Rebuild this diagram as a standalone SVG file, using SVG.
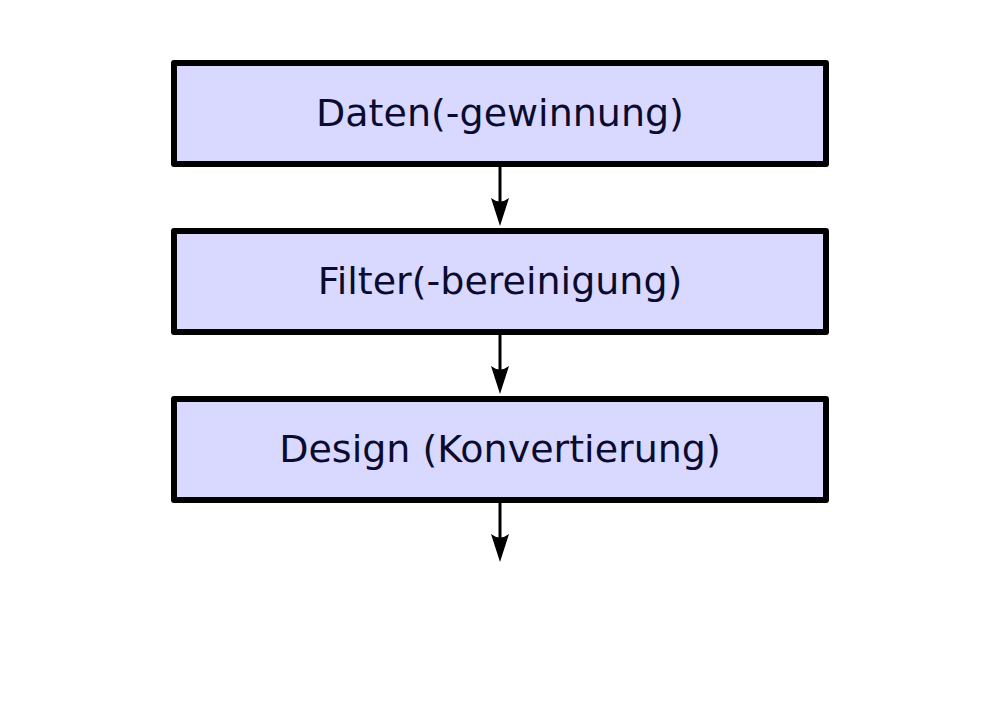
<svg xmlns="http://www.w3.org/2000/svg" width="1000" height="707" viewBox="0 0 1000 707">
<defs>
<style>
.box{fill:#d9d9ff;stroke:#000;stroke-width:6;stroke-linejoin:round}
.lbl{font-family:"DejaVu Sans",sans-serif;font-size:38px;fill:#0b0b30;text-anchor:middle}
.con{stroke:#000;stroke-width:3;fill:none}
.head{fill:#000}
</style>
</defs>
<rect width="1000" height="707" fill="#fff"/>
<g id="connectors">
<path class="con" d="M500 164V205"/>
<path class="head" d="M500 226L491 198Q500 205 509 198Z"/>
<path class="con" d="M500 332V373"/>
<path class="head" d="M500 394L491 366Q500 373 509 366Z"/>
<path class="con" d="M500 500V541"/>
<path class="head" d="M500 562L491 534Q500 541 509 534Z"/>
</g>
<g id="node1">
<rect class="box" x="174" y="63" width="652" height="101"/>
<text class="lbl" x="500" y="126">Daten(-gewinnung)</text>
</g>
<g id="node2">
<rect class="box" x="174" y="231" width="652" height="101"/>
<text class="lbl" x="500" y="294">Filter(-bereinigung)</text>
</g>
<g id="node3">
<rect class="box" x="174" y="399" width="652" height="101"/>
<text class="lbl" x="500" y="462">Design (Konvertierung)</text>
</g>
</svg>
